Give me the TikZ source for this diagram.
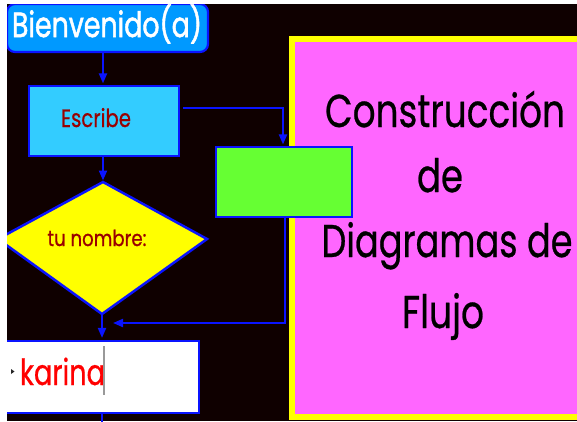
\documentclass[tikz,border=0pt]{standalone}
\usepackage{fontspec}
\usepackage{graphicx}
\setmainfont{Poppins}[FakeBold=0.7]
\usetikzlibrary{arrows.meta}
\definecolor{bgblack}{RGB}{15,0,0}
\definecolor{lineblue}{RGB}{10,20,255}
\definecolor{azure}{RGB}{0,153,255}
\definecolor{skyfill}{RGB}{51,204,255}
\definecolor{limefill}{RGB}{102,255,51}
\definecolor{yelfill}{RGB}{255,255,0}
\definecolor{pinkfill}{RGB}{255,102,255}
\definecolor{darkred}{RGB}{153,0,0}
\definecolor{brightred}{RGB}{255,0,0}
\newsavebox\fitbox
\newcommand\fitx[2]{\sbox\fitbox{#2}\pgfmathsetmacro\fitfac{#1/\the\wd\fitbox}\scalebox{\fitfac}[1]{\usebox\fitbox}}
\tikzset{
  box/.style={draw=lineblue, line width=2.2pt, inner sep=0pt},
  txt/.style={inner sep=0pt, outer sep=0pt},
  conn/.style={draw=lineblue, line width=2pt},
  arr/.style={conn, -{Triangle[length=10pt,width=8pt]}},
}
\begin{document}
\begin{tikzpicture}[x=1pt,y=-1pt]
\useasboundingbox (0,0) rectangle (577,421);
\fill[white] (0,0) rectangle (577,421);
\fill[bgblack] (7,4) rectangle (577,421);
\begin{scope}
\clip (7,4) rectangle (577,421);
% title panel
\node[draw=yelfill, fill=pinkfill, line width=6pt, minimum width=308pt, minimum height=378pt, inner sep=0pt] (panel) at (446,228) {};
\node[txt, anchor=base] (t1) at (445,127) {\fitx{240}{\fontsize{46}{46}\selectfont Construcción}};
\node[txt, anchor=base] (t2) at (440,192) {\fitx{46}{\fontsize{46}{46}\selectfont de}};
\node[txt, anchor=base] (t3) at (447,257) {\fitx{251}{\fontsize{46}{46}\selectfont Diagramas de}};
\node[txt, anchor=base] (t4) at (443,328) {\fitx{82}{\fontsize{46}{46}\selectfont Flujo}};
% boxes
\node[box, draw=lineblue, fill=azure, rounded corners=8pt, minimum width=201pt, minimum height=48pt] (welcome) at (107.5,28) {};
\node[txt, text=white, anchor=base] (welcometext) at (107,37) {\fitx{190}{\fontsize{35}{35}\selectfont\addfontfeature{FakeBold=1.6}Bienvenido(a)}};
\node[box, fill=skyfill, minimum width=150pt, minimum height=70pt] (escribe) at (104,121) {};
\node[txt, text=darkred, anchor=base] (escribetext) at (96,127) {\fitx{70}{\fontsize{25}{25}\selectfont Escribe}};
\node[box, fill=limefill, minimum width=136pt, minimum height=70pt] (green) at (284,182) {};
% diamond
\coordinate (dT) at (103,182);
\coordinate (dR) at (207,239);
\coordinate (dB) at (102,314);
\coordinate (dL) at (-2,239);
\filldraw[fill=yelfill, draw=lineblue, line width=2.5pt, line join=miter] (dT) -- (dR) -- (dB) -- (dL) -- cycle;
\node[txt, text=darkred, anchor=base] (asktext) at (97,246) {\fitx{99}{\fontsize{22}{22}\selectfont tu nombre:}};
% input box
\node[box, fill=white, minimum width=206pt, minimum height=72pt] (namebox) at (96,377) {};
\node[txt, text=brightred, anchor=base west] (nametext) at (20,385) {\fitx{85}{\fontsize{36}{36}\selectfont karina}};
\draw[black!40, line width=1.3pt] (104,346) -- (104,395);
\fill[black!85] (11,369) -- (14.5,371.5) -- (11,374) -- cycle;
% connectors
\draw[arr, shorten >=1.5pt] (welcome.south -| dT) -- (escribe.north -| dT);
\draw[arr, shorten >=1.5pt] (escribe.south -| dT) -- (dT);
\coordinate (c1) at (183,108);
\coordinate (c2) at (283,108);
\draw[arr, shorten >=1.5pt] (c1) -- (c2) -- (green.north -| c2);
\coordinate (c3) at (285,323);
\coordinate (c4) at (113,323);
\draw[arr] (green.south -| c3) -- (c3) -- (c4);
\draw[arr, shorten >=2pt] (dB) -- (namebox.north -| dB);
\draw[conn] (namebox.south -| dB) -- ++(0,12);
\end{scope}
\end{tikzpicture}
\end{document}
